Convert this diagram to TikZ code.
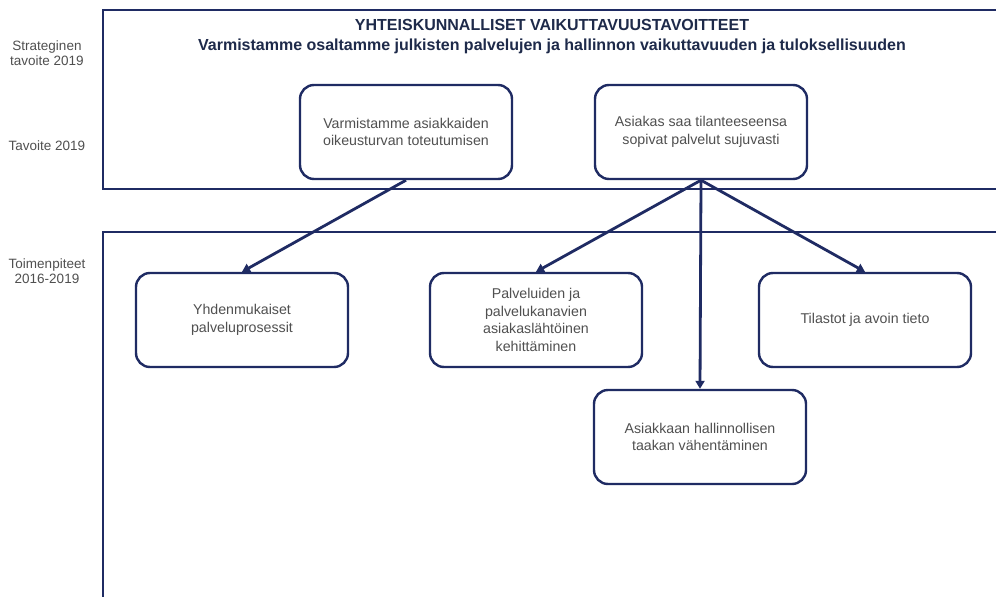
\documentclass[tikz,border=0pt]{standalone}
\usepackage{fontspec}
\setmainfont{Liberation Sans}
\usetikzlibrary{arrows.meta}
\definecolor{navy}{HTML}{1F2B63}
\definecolor{txt}{HTML}{505050}
\definecolor{ttl}{HTML}{1E2A4A}
\tikzset{
  frame/.style={draw=navy, line width=2.6pt},
  goalbox/.style={draw=navy, line width=2.4pt, rounded corners=14pt, fill=white,
    minimum width=212pt, minimum height=94pt, align=center, text=txt,
    font=\fontsize{14.2}{17.5}\selectfont, inner sep=0pt},
  sidelabel/.style={align=center, text=txt, font=\fontsize{13.5}{14.5}\selectfont},
  link/.style={draw=navy, line width=2.8pt, -{Triangle[length=8pt,width=9pt]}},
}
\begin{document}
\begin{tikzpicture}[x=1pt,y=-1pt]
\useasboundingbox (0,0) rectangle (996,597);
\fill[white] (0,0) rectangle (996,597);
% frames
\draw[frame] (1000,10) -- (103,10) -- (103,189) -- (1000,189);
\draw[frame] (1000,232) -- (103,232) -- (103,600);
% side labels
\node[sidelabel] (l1) at (47,53) {Strateginen\\tavoite 2019};
\node[sidelabel] (l2) at (47,146) {Tavoite 2019};
\node[sidelabel] (l3) at (47,271) {Toimenpiteet\\2016-2019};
% title
\node[text=ttl, font=\bfseries\fontsize{16}{20}\selectfont, align=center] (title) at (552,37)
  {YHTEISKUNNALLISET VAIKUTTAVUUSTAVOITTEET\\Varmistamme osaltamme julkisten palvelujen ja hallinnon vaikuttavuuden ja tuloksellisuuden};
% goal boxes
\node[goalbox] (a) at (406,132) {Varmistamme asiakkaiden\\oikeusturvan toteutumisen};
\node[goalbox] (b) at (701,132) {Asiakas saa tilanteeseensa\\sopivat palvelut sujuvasti};
% action boxes
\node[goalbox] (c) at (242,320) {Yhdenmukaiset\\palveluprosessit};
\node[goalbox] (d) at (536,320) {Palveluiden ja\\palvelukanavien\\asiakaslähtöinen\\kehittäminen};
\node[goalbox] (e) at (865,320) {Tilastot ja avoin tieto};
\node[goalbox] (f) at (700,437) {Asiakkaan hallinnollisen\\taakan vähentäminen};
% links
\draw[link] (a.south) -- (c.north);
\draw[link] (b.south) -- (d.north);
\draw[link] (b.south) -- (f.north);
\draw[link] (b.south) -- (e.north);
\end{tikzpicture}
\end{document}
